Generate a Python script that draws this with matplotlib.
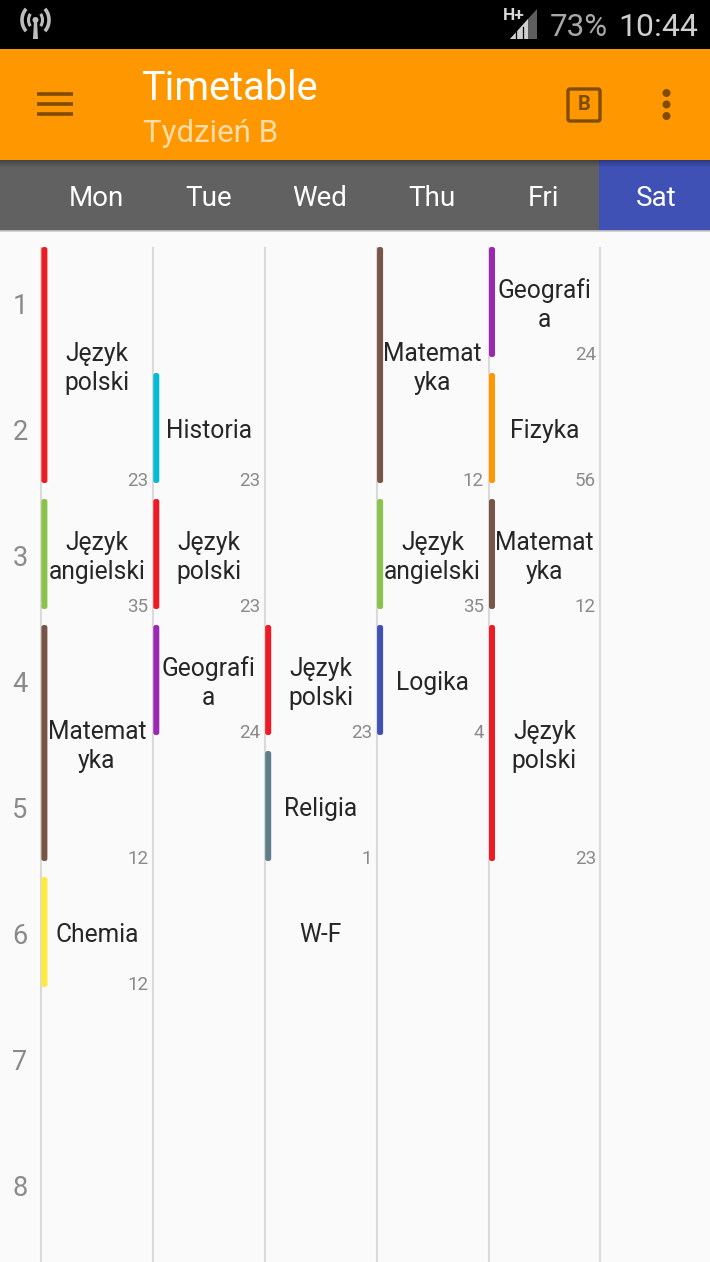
import numpy as np
import matplotlib
matplotlib.use('Agg')
import matplotlib.pyplot as plt
from matplotlib.patches import Arc, Circle, FancyBboxPatch, Polygon, Rectangle

plt.rcParams['font.family'] = ['Roboto', 'DejaVu Sans']

# timetable data
days = ['Mon', 'Tue', 'Wed', 'Thu', 'Fri', 'Sat']
periods = [1, 2, 3, 4, 5, 6, 7, 8]

lesson_day = [0, 0, 0, 0,
              1, 1, 1,
              2, 2, 2,
              3, 3, 3,
              4, 4, 4, 4]
lesson_start = [1, 3, 4, 6,
                2, 3, 4,
                4, 5, 6,
                1, 3, 4,
                1, 2, 3, 4]
lesson_length = [2, 1, 2, 1,
                 1, 1, 1,
                 1, 1, 1,
                 2, 1, 1,
                 1, 1, 1, 2]
lesson_name = ['Język\npolski', 'Język\nangielski', 'Matemat\nyka', 'Chemia',
               'Historia', 'Język\npolski', 'Geografi\na',
               'Język\npolski', 'Religia', 'W-F',
               'Matemat\nyka', 'Język\nangielski', 'Logika',
               'Geografi\na', 'Fizyka', 'Matemat\nyka', 'Język\npolski']
lesson_room = ['23', '35', '12', '12',
               '23', '23', '24',
               '23', '1', '',
               '12', '35', '4',
               '24', '56', '12', '23']
lesson_color = ['#ED1C24', '#8BC34A', '#795548', '#FFEB3B',
                '#00BCD4', '#ED1C24', '#9C27B0',
                '#ED1C24', '#607D8B', None,
                '#795548', '#8BC34A', '#3F51B5',
                '#9C27B0', '#FF9800', '#795548', '#ED1C24']

W, H = 710, 1262
COL_W, ROW_H = 111.9, 126
X0, Y0 = 41.4, 247
ROW_GAP = 16 / ROW_H
BAR_W = 6 / COL_W

fig = plt.figure(figsize=(W / 100, H / 100), dpi=100, facecolor='#FAFAFA')

# pixel axes for the phone chrome
ui = fig.add_axes([0, 0, 1, 1])
ui.set_xlim(0, W)
ui.set_ylim(H, 0)
ui.axis('off')

# grid axes: x in day columns, y in periods
ax = fig.add_axes([0, 0, 1, 1])
ax.set_xlim(-X0 / COL_W, (W - X0) / COL_W)
ax.set_ylim((H - Y0) / ROW_H, -Y0 / ROW_H)
ax.axis('off')
ax.patch.set_alpha(0)

# status bar, toolbar, day strip
ui.add_patch(Rectangle((0, 0), W, 49, color='black', lw=0))
ui.add_patch(Rectangle((0, 49), W, 111, color='#FF9800', lw=0))
ui.add_patch(Rectangle((0, 160), W, 71, color='#616161', lw=0))
ui.add_patch(Rectangle((599, 160), 111, 71, color='#3F51B5', lw=0))

# soft shadow under the toolbar
shadow = np.zeros((8, 1, 4))
shadow[:, 0, 3] = np.linspace(0.28, 0, 8)
ui.imshow(shadow, extent=(0, W, 168, 160), aspect='auto', zorder=2, interpolation='bilinear')
ui.set_xlim(0, W)
ui.set_ylim(H, 0)
ui.plot([0, W], [231, 231], color='#C8C8C8', lw=1.2, zorder=3)

# antenna icon
ICON = '#BDBDBD'
ui.add_patch(Circle((35.5, 20), 3, color=ICON, lw=0))
ui.add_patch(Polygon([[34, 20], [37, 20], [38, 39], [33, 39]], color=ICON, lw=0))
for size, lw in [(14, 2.2), (27, 2.6)]:
    ui.add_patch(Arc((35.5, 20), size, size + 4, theta1=130, theta2=230, color=ICON, lw=lw))
    ui.add_patch(Arc((35.5, 20), size, size + 4, theta1=-50, theta2=50, color=ICON, lw=lw))

# signal icon and status text
ui.add_patch(Polygon([[510, 39], [537, 9], [537, 39]], color='#5E5E5E', lw=0))
ui.add_patch(Polygon([[510, 39], [528, 19], [528, 39]], color='#CFCFCF', lw=0))
for x in [516, 522.5]:
    ui.plot([x, x], [27, 39], color='black', lw=0.9)
ui.text(514, 16, 'H+', color='#D8D8D8', fontsize=12.5, fontweight='bold', ha='center', va='center')
ui.text(578.5, 27, '73%', color='#A8A8A8', fontsize=22.5, ha='center', va='center')
ui.text(658.5, 27, '10:44', color='#CFCFCF', fontsize=23, ha='center', va='center')

# toolbar
ICON_DARK = '#7F4C00'
for y in [94, 104, 114]:
    ui.plot([37, 73], [y, y], color=ICON_DARK, lw=2.6, solid_capstyle='butt')
ui.text(141.5, 88, 'Timetable', color='white', fontsize=28.5, ha='left', va='center')
ui.text(143, 134, 'Tydzień B', color='#FFDCA8', fontsize=22.5, ha='left', va='center')
ui.add_patch(FancyBboxPatch((568, 89), 32, 32, boxstyle='round,pad=0,rounding_size=2',
                            fc='none', ec=ICON_DARK, lw=2.4))
ui.text(584, 105, 'B', color=ICON_DARK, fontsize=14.5, fontweight='bold', ha='center', va='center')
for y in [93, 104.5, 116]:
    ui.add_patch(Circle((666.5, y), 4, color=ICON_DARK, lw=0))

# day header
for d, name in enumerate(days):
    ax.text(d + 0.49, -48.5 / ROW_H, name, color='white', fontsize=20, ha='center', va='center')

# column lines and period numbers
ax.vlines(np.arange(len(days)) - 0.004, 0, (H - Y0) / ROW_H, color='#DADADA', lw=1.5)
for p in periods:
    ax.text(-21.5 / COL_W, p - 1 + 59 / ROW_H, str(p), color='#8A8A8A', fontsize=19.5,
            ha='center', va='center')

# lessons
for day, start, length, name, room, color in zip(lesson_day, lesson_start, lesson_length,
                                                 lesson_name, lesson_room, lesson_color):
    top = start - 1
    height = length - ROW_GAP
    if color is not None:
        ax.add_patch(FancyBboxPatch((day, top), BAR_W, height,
                                    boxstyle='round,pad=0,rounding_size=0.022',
                                    mutation_aspect=COL_W / ROW_H, fc=color, ec='none', zorder=3))
    ax.text(day + 0.495, top + height / 2 + 3.2 / ROW_H, name, color='#262626', fontsize=17.7,
            ha='center', va='center', multialignment='center', linespacing=1.27)
    if room:
        ax.text(day + 0.955, top + height + 7 / ROW_H, room, color='#8A8A8A', fontsize=13.5,
                ha='right', va='bottom')

fig.savefig('out.png', dpi=100, facecolor=fig.get_facecolor())
